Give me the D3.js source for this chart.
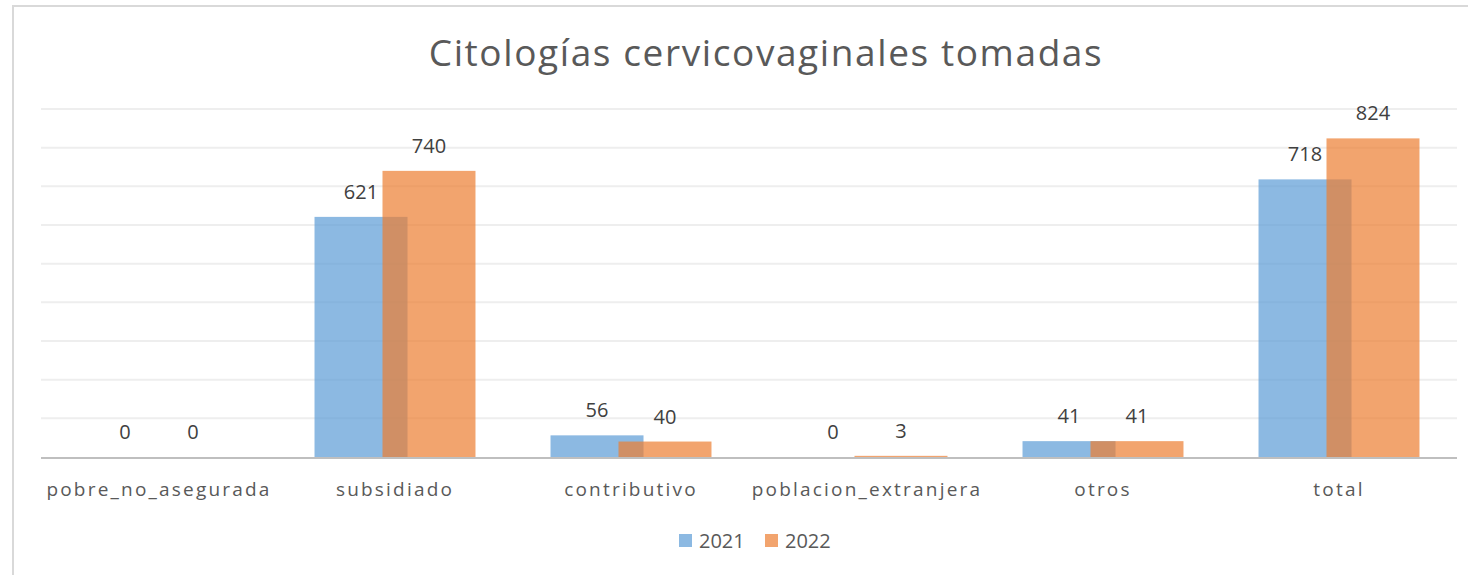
<!DOCTYPE html>
<html>
<head>
<meta charset="utf-8">
<script src="https://cdn.jsdelivr.net/npm/d3@7"></script>
<style>
  body { margin: 0; background: #fff; }
  svg { display: block; }
</style>
</head>
<body>
<div id="chart"></div>
<script>
// data
const categories = ["pobre_no_asegurada", "subsidiado", "contributivo", "poblacion_extranjera", "otros", "total"];
const years = ["2021", "2022"];
const values2021 = [0, 621, 56, 0, 41, 718];
const values2022 = [0, 740, 40, 3, 41, 824];
const yTicks = [0, 100, 200, 300, 400, 500, 600, 700, 800, 900];
const titleText = "Citologías cervicovaginales tomadas";

const w = 1468, h = 575;
const colors = { "2021": "#5b9bd5", "2022": "#ed7d31" };

let svg = d3.select("#chart").append("svg")
  .attr("width", w)
  .attr("height", h);

// outer frame
svg.append("rect")
  .attr("x", 13).attr("y", 6)
  .attr("width", 1480).attr("height", 620)
  .attr("fill", "none")
  .attr("stroke", "#d9d9d9")
  .attr("stroke-width", 2);

// title
svg.append("text")
  .attr("x", 766)
  .attr("y", 66)
  .attr("text-anchor", "middle")
  .attr("font-family", "Open Sans")
  .attr("font-size", "37px")
  .attr("letter-spacing", "1.6px")
  .attr("fill", "#595959")
  .text(titleText);

let x = d3.scaleBand()
  .domain(categories)
  .range([41, 1457]);

let y = d3.scaleLinear()
  .domain([0, 900])
  .range([457, 109]);

// gridlines
svg.append("g")
  .selectAll("line")
  .data(yTicks.slice(1))
  .enter()
  .append("line")
  .attr("x1", 41)
  .attr("x2", 1457)
  .attr("y1", d => y(d))
  .attr("y2", d => y(d))
  .attr("stroke", "#eeeeee")
  .attr("stroke-width", 2);

// bars: two series, second one shifted right and overlapping the first
let barW = x.bandwidth() * 0.394;
let shift = x.bandwidth() * 0.288;
let groupLeft = (x.bandwidth() - (barW + shift)) / 2;

let series = [
  { year: years[0], vals: values2021, off: 0 },
  { year: years[1], vals: values2022, off: shift }
];

series.forEach(function(s) {
  let g = svg.append("g");
  g.selectAll("rect")
    .data(s.vals)
    .enter()
    .append("rect")
    .attr("x", (d, i) => x(categories[i]) + groupLeft + s.off)
    .attr("y", d => y(d))
    .attr("width", barW)
    .attr("height", d => y(0) - y(d))
    .attr("fill", colors[s.year])
    .attr("fill-opacity", 0.7);
});

// value labels
series.forEach(function(s) {
  svg.append("g")
    .selectAll("text")
    .data(s.vals)
    .enter()
    .append("text")
    .attr("x", (d, i) => x(categories[i]) + groupLeft + s.off + barW / 2)
    .attr("y", d => y(d) - 18)
    .attr("text-anchor", "middle")
    .attr("font-family", "Open Sans")
    .attr("font-size", "20px")
    .attr("fill", "#404040")
    .text(d => d);
});

// x axis line
svg.append("line")
  .attr("x1", 41).attr("x2", 1457)
  .attr("y1", y(0) + 1).attr("y2", y(0) + 1)
  .attr("stroke", "#bfbfbf")
  .attr("stroke-width", 2);

// category labels
let xAxis = d3.axisBottom(x).tickSize(0).tickPadding(0);
let axisG = svg.append("g")
  .attr("transform", "translate(0," + 482 + ")")
  .call(xAxis);
axisG.select(".domain").remove();
axisG.selectAll("text")
  .attr("dy", "0.71em")
  .attr("font-family", "Open Sans")
  .attr("font-size", "19px")
  .attr("letter-spacing", "2.2px")
  .attr("fill", "#595959");

// legend
let legendX = [679, 765];
let legend = svg.append("g")
  .selectAll("g")
  .data(years)
  .enter()
  .append("g")
  .attr("transform", (d, i) => "translate(" + legendX[i] + ",534)");

legend.append("rect")
  .attr("width", 13).attr("height", 13)
  .attr("fill", d => colors[d])
  .attr("fill-opacity", 0.7);

legend.append("text")
  .attr("x", 20)
  .attr("y", 14)
  .attr("font-family", "Open Sans")
  .attr("font-size", "20px")
  .attr("fill", "#595959")
  .text(d => d);
</script>
</body>
</html>
